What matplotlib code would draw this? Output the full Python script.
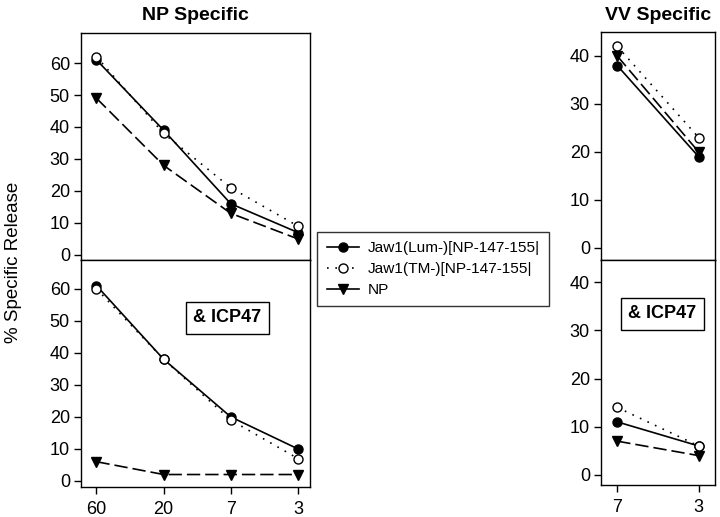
import matplotlib
matplotlib.use("Agg")
import matplotlib.pyplot as plt
from matplotlib.lines import Line2D

plt.rcParams['font.family'] = ['Liberation Sans', 'DejaVu Sans']

np_ticks = ["60", "20", "7", "3"]
vv_ticks = ["7", "3"]

np_top_lum = [61, 39, 16, 7]
np_top_tm = [62, 38, 21, 9]
np_top_np = [49, 28, 13, 5]

np_bot_lum = [61, 38, 20, 10]
np_bot_tm = [60, 38, 19, 7]
np_bot_np = [6, 2, 2, 2]

vv_top_lum = [38, 19]
vv_top_tm = [42, 23]
vv_top_np = [40, 20]

vv_bot_lum = [11, 6]
vv_bot_tm = [14, 6]
vv_bot_np = [7, 4]

legend_labels = ["Jaw1(Lum-)[NP-147-155|", "Jaw1(TM-)[NP-147-155|", "NP"]

fig = plt.figure(figsize=(7.2, 5.17), dpi=100)
W, H = 720, 517

def ax_at(x0, y0, x1, y1):
    return fig.add_axes([x0 / W, 1 - y1 / H, (x1 - x0) / W, (y1 - y0) / H])

ax_tl = ax_at(81, 33, 310, 260)
ax_bl = ax_at(81, 260, 310, 487)
ax_tr = ax_at(601, 32, 715, 260)
ax_br = ax_at(601, 260, 715, 485)

ms = 6.5
lw = 1.2
DOT = (0, (1, 4))
DASH = (0, (8, 3))

def draw(ax, labels, lum, tm, npv):
    x = list(range(len(labels)))
    ax.plot(x, lum, color='black', lw=lw, ls='-', marker='o', ms=ms,
            mfc='black', mec='black', zorder=3)
    ax.plot(x, tm, color='black', lw=lw, ls=DOT, marker='o', ms=ms,
            mfc='white', mec='black', zorder=4)
    ax.plot(x, npv, color='black', lw=lw, ls=DASH, marker='v', ms=ms,
            mfc='black', mec='black', zorder=3)
    ax.set_xticks(x)
    ax.set_xticklabels(labels)
    for s in ax.spines.values():
        s.set_linewidth(1.0)
    ax.tick_params(axis='both', direction='out', length=5, width=1,
                   labelsize=13, top=False, right=False, pad=3)
    ax.tick_params(axis='x', pad=5)

draw(ax_tl, np_ticks, np_top_lum, np_top_tm, np_top_np)
draw(ax_bl, np_ticks, np_bot_lum, np_bot_tm, np_bot_np)
draw(ax_tr, vv_ticks, vv_top_lum, vv_top_tm, vv_top_np)
draw(ax_br, vv_ticks, vv_bot_lum, vv_bot_tm, vv_bot_np)

for ax in (ax_tl, ax_bl):
    ax.set_xlim(-0.23, 3.18)
    ax.set_yticks([0, 10, 20, 30, 40, 50, 60])
ax_tl.set_ylim(-1.6, 69.4)
ax_bl.set_ylim(-1.9, 69.0)
for ax in (ax_tr, ax_br):
    ax.set_xlim(-0.2, 1.2)
    ax.set_yticks([0, 10, 20, 30, 40])
ax_tr.set_ylim(-2.5, 45.0)
ax_br.set_ylim(-2.1, 44.6)

for ax in (ax_tl, ax_tr):
    ax.tick_params(axis='x', labelbottom=False)

ax_tl.set_title("NP Specific", fontsize=14, fontweight='bold', pad=9)
ax_tr.set_title("VV Specific", fontsize=14, fontweight='bold', pad=9)

box = dict(boxstyle='square,pad=0.4', fc='white', ec='black', lw=1.0)
ax_bl.text(0.64, 0.745, "& ICP47", transform=ax_bl.transAxes, ha='center',
           va='center', fontsize=13, fontweight='bold', bbox=box)
ax_br.text(0.54, 0.76, "& ICP47", transform=ax_br.transAxes, ha='center',
           va='center', fontsize=13, fontweight='bold', bbox=box)

fig.text(14 / W, 1 - 262 / H, "% Specific Release", rotation=90,
         ha='center', va='center', fontsize=13.5)

handles = [
    Line2D([], [], color='black', lw=lw, ls='-', marker='o', ms=ms, mfc='black'),
    Line2D([], [], color='black', lw=lw, ls=DOT, marker='o', ms=ms, mfc='white'),
    Line2D([], [], color='black', lw=lw, ls='-', marker='v', ms=ms, mfc='black'),
]
leg = fig.legend(handles, legend_labels, loc='center',
                 bbox_to_anchor=(433 / W, 1 - 269 / H), fontsize=11.1,
                 frameon=True, fancybox=False, edgecolor='black',
                 handlelength=2.1, handletextpad=0.55, labelspacing=0.45,
                 borderpad=0.6, borderaxespad=0)
leg.get_frame().set_linewidth(1.0)

fig.savefig("out.png", dpi=100)
